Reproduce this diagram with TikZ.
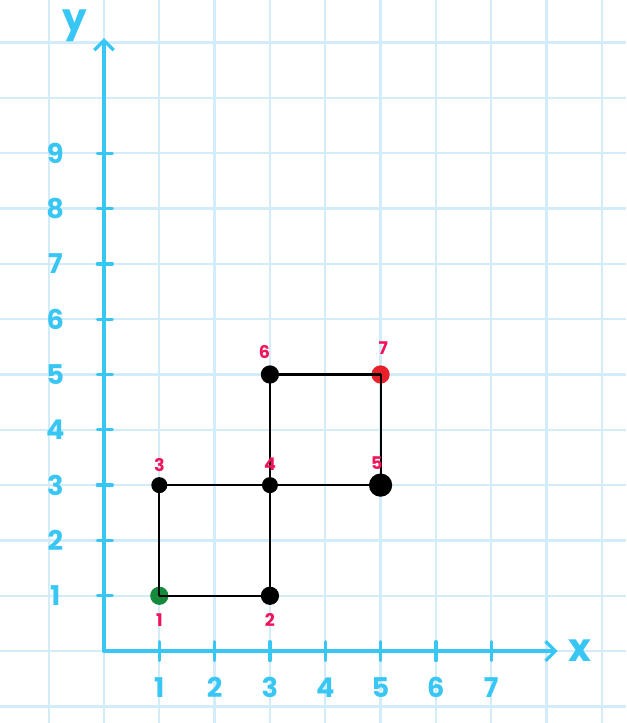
\documentclass[tikz,border=0pt]{standalone}
\usepackage{fontspec}
\setmainfont{Poppins}
\usetikzlibrary{arrows.meta}
\definecolor{gridblue}{HTML}{D2ECFA}
\definecolor{axisblue}{HTML}{38C6F4}
\definecolor{lblpink}{HTML}{F0145A}
\definecolor{startgreen}{HTML}{138A3C}
\definecolor{endred}{HTML}{E8202A}
\tikzset{
  gridline/.style={gridblue, line width=1.2pt},
  axisline/.style={axisblue, line width=1.7pt, line cap=round},
  axislbl/.style={text=axisblue, font=\fontsize{14}{14}\selectfont\bfseries},
  axisletter/.style={text=axisblue, font=\fontsize{20}{20}\selectfont\bfseries},
  vtx/.style={circle, fill=black, inner sep=0pt, minimum size=0.33cm},
  vlbl/.style={text=lblpink, font=\fontsize{9}{9}\selectfont\bfseries},
  edge/.style={black, line width=1.1pt}
}
\begin{document}
\begin{tikzpicture}
\useasboundingbox (-1.88,-1.30) rectangle (9.44,11.77);
\fill[white] (-1.88,-1.30) rectangle (9.44,11.77);
% grid
\foreach \x in {-1,...,9} \draw[gridline] (\x,-1.30) -- (\x,11.77);
\foreach \y in {-1,...,11} \draw[gridline] (-1.88,\y) -- (9.44,\y);
% axes
\coordinate (O) at (0,0);
\coordinate (xend) at (8.2,0);
\coordinate (yend) at (0,11.08);
\draw[axisline, -{Straight Barb[length=5pt,width=10pt,line width=1.7pt]}] (O) -- (xend);
\draw[axisline, -{Straight Barb[length=5pt,width=10pt,line width=1.7pt]}] (O) -- (yend);
\foreach \x in {1,...,7} {
  \draw[axisline] (\x,-0.17) -- (\x,0.17);
  \node[axislbl] (xl\x) at (\x,-0.66) {\x};
}
\foreach \y in {1,...,9} {
  \draw[axisline] (-0.12,\y) -- (0.15,\y);
  \node[axislbl] (yl\y) at (-0.88,\y) {\y};
}
\node[axisletter] (xlab) at (8.6,0.0) {x};
\node[axisletter] (ylab) at (-0.52,11.3) {y};
% graph vertices
\node[vtx, fill=startgreen] (n1) at (1,1) {};
\node[vtx] (n2) at (3,1) {};
\node[vtx, minimum size=0.29cm] (n3) at (1,3) {};
\node[vtx, minimum size=0.29cm] (n4) at (3,3) {};
\node[vtx, minimum size=0.42cm] (n5) at (5,3) {};
\node[vtx] (n6) at (3,5) {};
\node[vtx, fill=endred] (n7) at (5,5) {};
% edges
\draw[edge] (n1.center) -- (n2.center);
\draw[edge] (n1.center) -- (n3.center);
\draw[edge] (n3.center) -- (n4.center);
\draw[edge] (n2.center) -- (n4.center);
\draw[edge] (n4.center) -- (n5.center);
\draw[edge] (n4.center) -- (n6.center);
\draw[edge] (n6.center) -- (n7.center);
\draw[edge] (n7.center) -- (n5.center);
% vertex labels
\node[vlbl] (l1) at (1,0.56) {1};
\node[vlbl] (l2) at (3,0.56) {2};
\node[vlbl] (l3) at (1,3.37) {3};
\node[vlbl] (l4) at (3,3.37) {4};
\node[vlbl] (l5) at (4.93,3.40) {5};
\node[vlbl] (l6) at (2.9,5.40) {6};
\node[vlbl] (l7) at (5.05,5.47) {7};
\end{tikzpicture}
\end{document}
